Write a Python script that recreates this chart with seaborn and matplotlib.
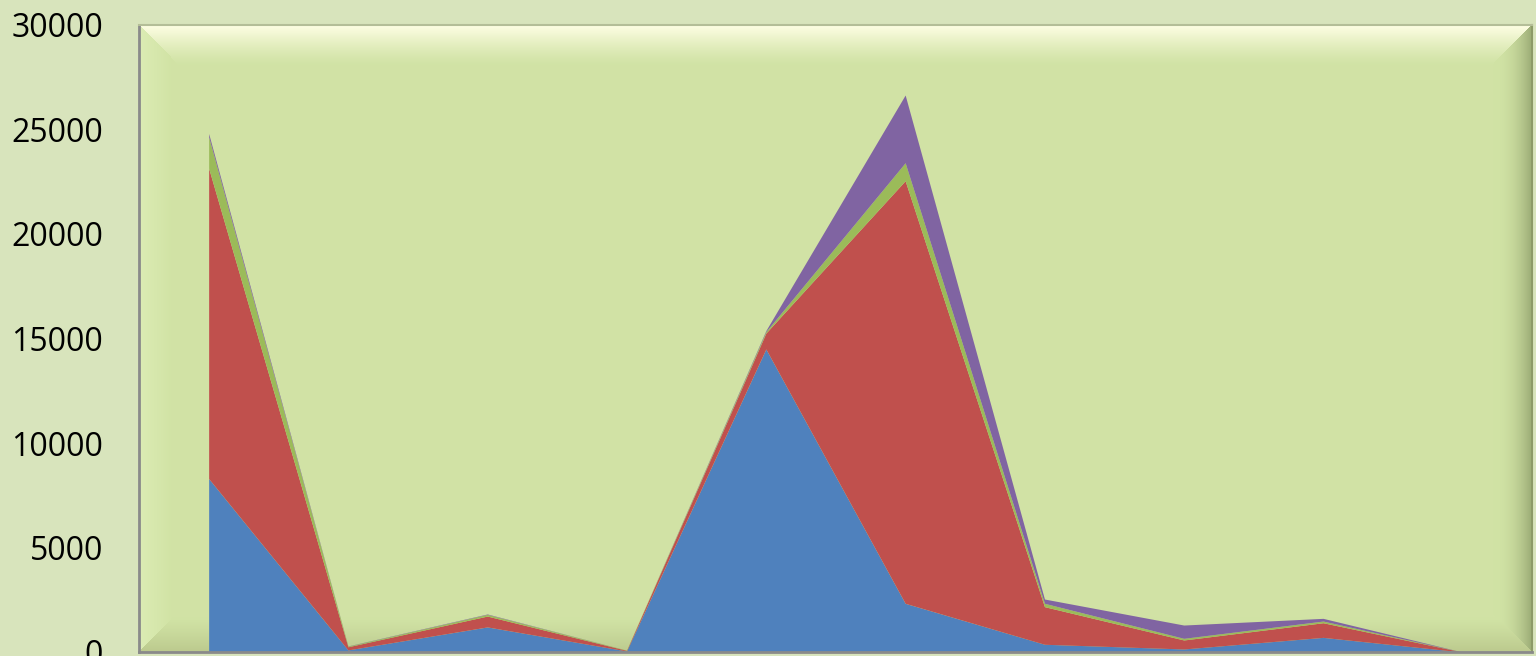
import numpy as np
import pandas as pd
import matplotlib
matplotlib.use("Agg")
import matplotlib.pyplot as plt
import seaborn as sns

# Categories along the x axis (labels fall below the visible canvas)
categories = [1, 2, 3, 4, 5, 6, 7, 8, 9, 10]

# Stacked series, bottom to top
series_a = [8300, 100, 1200, 50, 14500, 2330, 370, 145, 700, 0]
series_b = [14850, 150, 520, 30, 760, 20220, 1800, 430, 700, 0]
series_c = [1500, 30, 80, 10, 70, 860, 160, 80, 80, 0]
series_d = [160, 10, 20, 0, 50, 3240, 205, 635, 130, 0]

y_ticks = [0, 5000, 10000, 15000, 20000, 25000, 30000]

df = pd.DataFrame({"cat": categories, "A": series_a, "B": series_b,
                   "C": series_c, "D": series_d})

sns.set_style("white")
plt.rcParams["font.family"] = ["Open Sans", "DejaVu Sans"]
palette = sns.color_palette(["#4F81BD", "#C0504D", "#9BBB59", "#8064A2"])

fig = plt.figure(figsize=(15.36, 6.56), dpi=100, facecolor="#D8E4BC")
ax = fig.add_axes([139 / 1536, 1 - 652 / 656, (1532 - 139) / 1536, (652 - 25) / 656])
ax.set_facecolor("#D1E3A5")

# Bevelled plot-area background
H, W = 627, 1393
yy, xx = np.mgrid[0:H, 0:W].astype(float)
dt, db, dl, dr = yy, H - 1 - yy, xx, W - 1 - xx
base = np.array([0xD1, 0xE3, 0xA5]) / 255.0
img = np.tile(base, (H, W, 1))
edges = [
    (dt, 40, np.array([0xFE, 0xFE, 0xE4]) / 255.0, 1.3),
    (dl, 32, np.array([0xDC, 0xEC, 0xB4]) / 255.0, 1.0),
    (dr, 38, np.array([0x9C, 0xAC, 0x76]) / 255.0, 2.2),
    (db, 34, np.array([0xBC, 0xCA, 0x8E]) / 255.0, 1.2),
]
dmin = np.minimum(np.minimum(dt, db), np.minimum(dl, dr))
for d, w, col, p in edges:
    mask = (d == dmin) & (d < w)
    t = (1 - d / w) ** p
    for k in range(3):
        img[..., k] = np.where(mask, base[k] + (col[k] - base[k]) * t, img[..., k])
ax.imshow(img, extent=[0.5, 10.5, 0, 30000], aspect="auto", zorder=0,
          interpolation="bilinear")

ax.stackplot(df["cat"], df["A"], df["B"], df["C"], df["D"],
             colors=palette, linewidth=0, zorder=2)

ax.set_xlim(0.5, 10.5)
ax.set_ylim(0, 30000)
ax.set_yticks(y_ticks)
ax.set_yticklabels([str(v) for v in y_ticks], fontsize=23, color="black")
ax.tick_params(axis="y", length=0, pad=26)
ax.set_xticks(np.arange(0.5, 11, 1.0))
ax.set_xticklabels([])
ax.tick_params(axis="x", length=8, width=1.5, color="#8A8A8A", direction="out")

for side in ["left", "bottom"]:
    ax.spines[side].set_color("#8A8A8A")
    ax.spines[side].set_linewidth(2)
ax.spines["top"].set_color("#B4BE98")
ax.spines["top"].set_linewidth(1.5)
ax.spines["right"].set_color("#8C9A68")
ax.spines["right"].set_linewidth(1.5)
for s in ax.spines.values():
    s.set_zorder(5)

fig.savefig("out.png", dpi=100, facecolor=fig.get_facecolor())
